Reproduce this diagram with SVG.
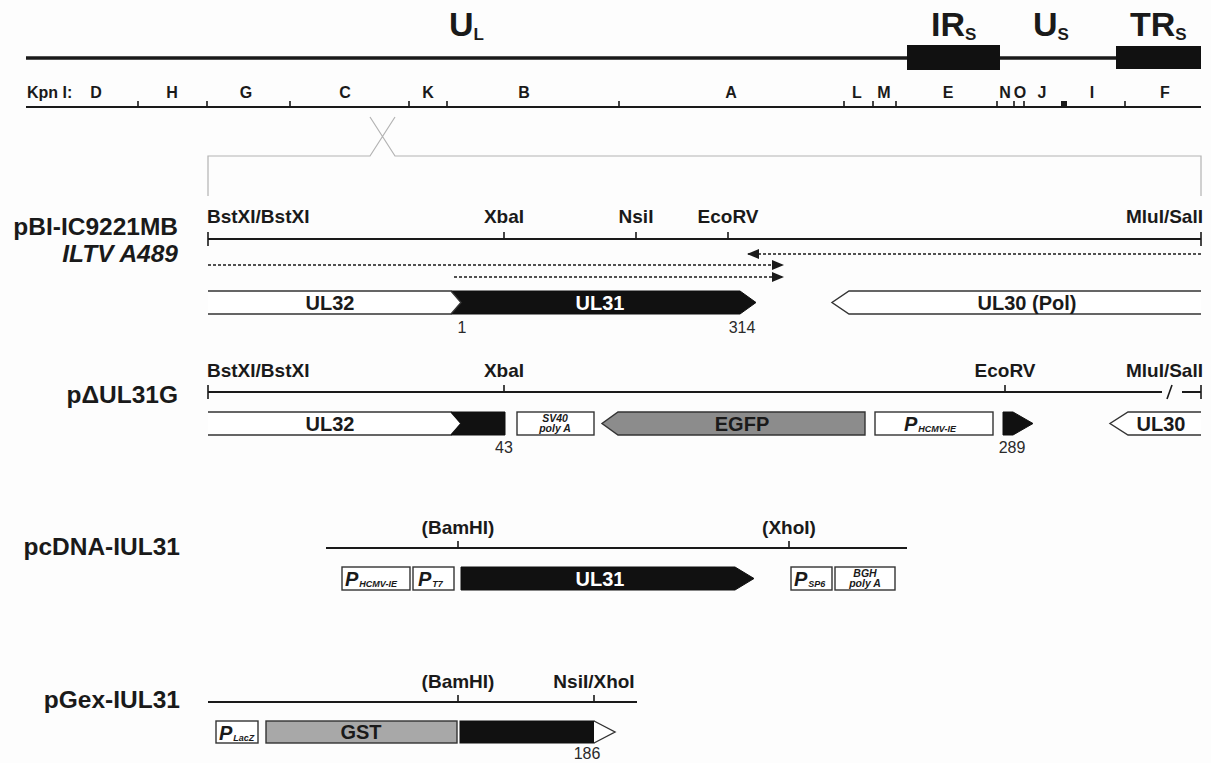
<svg xmlns="http://www.w3.org/2000/svg" width="1211" height="763" viewBox="0 0 1211 763">
  <defs>
    <style>
      text { font-family: "Liberation Sans", Arial, Helvetica, sans-serif; font-weight: bold; fill: #1a1a1a; }
      .title { font-size: 34px; }
      .sub { font-size: 17px; }
      .kpn { font-size: 16px; }
      .name { font-size: 24.5px; }
      .site { font-size: 19px; }
      .num { font-size: 16px; font-weight: normal; fill: #2a2a2a; }
      .gene { font-size: 20px; }
      .pbig { font-size: 20px; font-style: italic; }
      .psub { font-size: 9px; font-style: italic; }
      .poly { font-size: 10.5px; font-style: italic; }
      .thick { stroke: #1a1a1a; stroke-width: 3.5; fill: none; }
      .map { stroke: #1a1a1a; stroke-width: 2; fill: none; }
      .tick { stroke: #1a1a1a; stroke-width: 1.6; fill: none; }
      .frame { stroke: #b3b3b3; stroke-width: 1.2; fill: none; }
      .dash { stroke: #1a1a1a; stroke-width: 1.5; stroke-dasharray: 3 2; fill: none; }
      .open { fill: #fff; stroke: #333; stroke-width: 1.4; }
      .box { fill: #fff; stroke: #333; stroke-width: 1.4; }
      .solid { fill: #111; stroke: #111; stroke-width: 1; }
      .grey { fill: #8c8c8c; stroke: #333; stroke-width: 1.4; }
      .light { fill: #a8a8a8; stroke: #333; stroke-width: 1.4; }
    </style>
    <marker id="head" markerWidth="12" markerHeight="10" refX="11" refY="5" orient="auto" markerUnits="userSpaceOnUse">
      <path d="M0,0 L12,5 L0,10 Z" fill="#1a1a1a"/>
    </marker>
  </defs>
  <rect width="1211" height="763" fill="#fdfdfd"/>

  <!-- genome overview -->
  <g id="genome">
    <line class="thick" x1="26" y1="58" x2="1201" y2="58"/>
    <rect x="907" y="45" width="93" height="25" fill="#111"/>
    <rect x="1116" y="46" width="85" height="23" fill="#111"/>
    <text class="title" x="449" y="36">U<tspan class="sub" dy="4">L</tspan></text>
    <text class="title" x="931" y="36">IR<tspan class="sub" dy="4">S</tspan></text>
    <text class="title" x="1033" y="36">U<tspan class="sub" dy="4">S</tspan></text>
    <text class="title" x="1130" y="36">TR<tspan class="sub" dy="4">S</tspan></text>
  </g>

  <!-- KpnI restriction map -->
  <g id="kpn-map">
    <line class="map" x1="26" y1="107" x2="1201" y2="107"/>
    <path class="tick" d="M138,101V107 M207,101V107 M290,101V107 M409,101V107 M447,101V107 M619,101V107 M844,101V107 M873,101V107 M896,101V107 M997,101V107 M1014,101V107 M1024,101V107 M1125,101V107"/>
    <rect x="1061" y="101" width="6" height="6" fill="#1a1a1a"/>
    <text class="kpn" x="27" y="98">Kpn I:</text>
    <g text-anchor="middle">
      <text class="kpn" x="96" y="98">D</text>
      <text class="kpn" x="172" y="98">H</text>
      <text class="kpn" x="246" y="98">G</text>
      <text class="kpn" x="345" y="98">C</text>
      <text class="kpn" x="428" y="98">K</text>
      <text class="kpn" x="524" y="98">B</text>
      <text class="kpn" x="731" y="98">A</text>
      <text class="kpn" x="857" y="98">L</text>
      <text class="kpn" x="884" y="98">M</text>
      <text class="kpn" x="948" y="98">E</text>
      <text class="kpn" x="1005" y="98">N</text>
      <text class="kpn" x="1020" y="98">O</text>
      <text class="kpn" x="1042" y="98">J</text>
      <text class="kpn" x="1092" y="98">I</text>
      <text class="kpn" x="1165" y="98">F</text>
    </g>
  </g>

  <!-- connectors: expansion frame and transcript arrows -->
  <g id="connectors">
    <path class="frame" d="M370,117 L395,156 L1201,156 L1201,196 M395,117 L370,156 L208,156 L208,196"/>
    <line class="dash" x1="1201" y1="254" x2="748" y2="254" marker-end="url(#head)"/>
    <line class="dash" x1="208" y1="265" x2="783" y2="265" marker-end="url(#head)"/>
    <line class="dash" x1="454" y1="277" x2="783" y2="277" marker-end="url(#head)"/>
  </g>

  <!-- pBI-IC9221MB -->
  <g id="pBI-IC9221MB">
    <text class="name" x="178" y="235" text-anchor="end">pBI-IC9221MB</text>
    <text class="name" x="178" y="262" text-anchor="end" font-style="italic">ILTV A489</text>
    <text class="site" x="207" y="223">BstXI/BstXI</text>
    <text class="site" x="504" y="223" text-anchor="middle">XbaI</text>
    <text class="site" x="636" y="223" text-anchor="middle">NsiI</text>
    <text class="site" x="728" y="223" text-anchor="middle">EcoRV</text>
    <text class="site" x="1203" y="223" text-anchor="end">MluI/SalI</text>
    <line class="map" x1="208" y1="239" x2="1201" y2="239"/>
    <path class="tick" d="M208,232V246 M1201,232V246 M504,232V239 M636,232V239 M728,232V239"/>
    <path class="solid" d="M451,291 L740,291 L756,302.5 L740,314 L451,314 L461,302.5 Z"/>
    <path class="open" d="M208,291 L451,291 L461,302.5 L451,314 L208,314"/>
    <path class="open" d="M1201,291 L849,291 L832,302.5 L849,314 L1201,314"/>
    <text class="gene" x="330" y="310" text-anchor="middle">UL32</text>
    <text class="gene" x="600" y="310" text-anchor="middle" style="fill:#fff">UL31</text>
    <text class="gene" x="1027" y="310" text-anchor="middle">UL30 (Pol)</text>
    <text class="num" x="462" y="333" text-anchor="middle">1</text>
    <text class="num" x="742" y="333" text-anchor="middle">314</text>
  </g>

  <!-- pΔUL31G -->
  <g id="pdUL31G">
    <text class="name" x="178" y="403" text-anchor="end">pΔUL31G</text>
    <text class="site" x="207" y="377">BstXI/BstXI</text>
    <text class="site" x="504" y="377" text-anchor="middle">XbaI</text>
    <text class="site" x="1005" y="377" text-anchor="middle">EcoRV</text>
    <text class="site" x="1203" y="377" text-anchor="end">MluI/SalI</text>
    <path class="map" d="M208,392 H1162 M1182,392 H1201"/>
    <line class="tick" x1="1167" y1="399" x2="1172" y2="385"/>
    <path class="tick" d="M208,385V399 M1201,385V399 M504,385V392 M1005,385V392"/>
    <path class="open" d="M208,412 L451,412 L461,423.5 L451,435 L208,435"/>
    <text class="gene" x="330" y="431" text-anchor="middle">UL32</text>
    <path class="solid" d="M451,412 L505,412 L505,435 L451,435 L461,423.5 Z"/>
    <text class="num" x="504" y="453" text-anchor="middle">43</text>
    <rect class="box" x="517" y="412" width="77" height="23"/>
    <text class="poly" x="555" y="422" text-anchor="middle">SV40</text>
    <text class="poly" x="555" y="432" text-anchor="middle">poly A</text>
    <path class="grey" d="M865,412 L618,412 L602,423.5 L618,435 L865,435 Z"/>
    <text class="gene" x="742" y="431" text-anchor="middle">EGFP</text>
    <rect class="box" x="875" y="412" width="118" height="23"/>
    <text class="pbig" x="904" y="431">P<tspan class="psub" dx="1" dy="1">HCMV-IE</tspan></text>
    <path class="solid" d="M1003,412 L1013,412 L1033,423.5 L1013,435 L1003,435 Z"/>
    <text class="num" x="1012" y="453" text-anchor="middle">289</text>
    <path class="open" d="M1201,412 L1128,412 L1110,423.5 L1128,435 L1201,435"/>
    <text class="gene" x="1161" y="431" text-anchor="middle">UL30</text>
  </g>

  <!-- pcDNA-IUL31 -->
  <g id="pcDNA-IUL31">
    <text class="name" x="180" y="555" text-anchor="end">pcDNA-IUL31</text>
    <text class="site" x="458" y="534" text-anchor="middle">(BamHI)</text>
    <text class="site" x="789" y="534" text-anchor="middle">(XhoI)</text>
    <line class="map" x1="326" y1="548" x2="907" y2="548"/>
    <path class="tick" d="M458,541V548 M789,541V548"/>
    <rect class="box" x="342" y="567" width="68" height="23"/>
    <text class="pbig" x="345" y="586">P<tspan class="psub" dx="1" dy="1">HCMV-IE</tspan></text>
    <rect class="box" x="413" y="567" width="41" height="23"/>
    <text class="pbig" x="418" y="586">P<tspan class="psub" dx="1" dy="1">T7</tspan></text>
    <path class="solid" d="M461,567 L735,567 L754,578.5 L735,590 L461,590 Z"/>
    <text class="gene" x="600" y="586" text-anchor="middle" style="fill:#fff">UL31</text>
    <rect class="box" x="791" y="567" width="41" height="23"/>
    <text class="pbig" x="794" y="586">P<tspan class="psub" dx="1" dy="1">SP6</tspan></text>
    <rect class="box" x="835" y="567" width="60" height="23"/>
    <text class="poly" x="865" y="577" text-anchor="middle">BGH</text>
    <text class="poly" x="865" y="587" text-anchor="middle">poly A</text>
  </g>

  <!-- pGex-IUL31 -->
  <g id="pGex-IUL31">
    <text class="name" x="180" y="708" text-anchor="end">pGex-IUL31</text>
    <text class="site" x="458" y="688" text-anchor="middle">(BamHI)</text>
    <text class="site" x="594" y="688" text-anchor="middle">NsiI/XhoI</text>
    <line class="map" x1="208" y1="702" x2="637" y2="702"/>
    <path class="tick" d="M458,695V702 M594,695V702"/>
    <rect class="box" x="216" y="721" width="42" height="22"/>
    <text class="pbig" x="219" y="740">P<tspan class="psub" dx="1" dy="1">LacZ</tspan></text>
    <rect class="light" x="266" y="721" width="191" height="22"/>
    <text class="gene" x="361" y="739" text-anchor="middle">GST</text>
    <rect class="solid" x="460" y="721" width="134" height="22"/>
    <path class="open" d="M594,721 L615,732 L594,743"/>
    <text class="num" x="587" y="759" text-anchor="middle">186</text>
  </g>
</svg>
